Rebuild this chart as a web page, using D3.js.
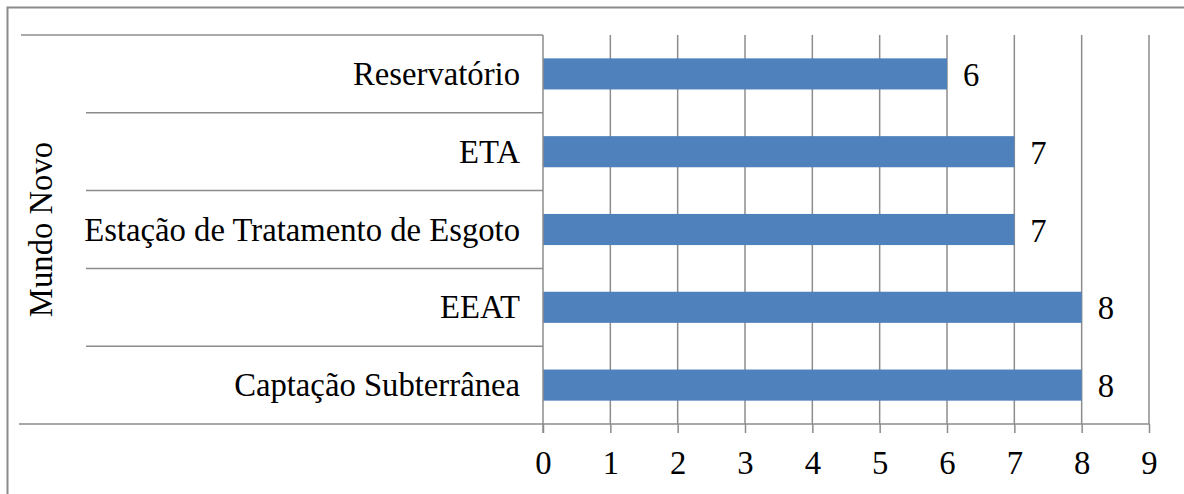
<!DOCTYPE html>
<html>
<head>
<meta charset="utf-8">
<script src="https://cdn.jsdelivr.net/npm/d3@7/dist/d3.min.js"></script>
<style>
  html, body { margin: 0; padding: 0; background: #fff; }
  svg { display: block; }
</style>
</head>
<body>
<svg id="chart" width="1184" height="494"></svg>
<script>
// Group label and categories (top to bottom) with their counts
const groupLabel = "Mundo Novo";
const categories = ["Reservatório", "ETA", "Estação de Tratamento de Esgoto", "EEAT", "Captação Subterrânea"];
const values = [6, 7, 7, 8, 8];
const xTicks = [0, 1, 2, 3, 4, 5, 6, 7, 8, 9];

const svg = d3.select("#chart");
const gridColor = "#8c8c8c";
const barColor = "#4f81bd";
const fontSize = 32.7;
const serif = '"Liberation Serif"';

const plot = { left: 543, right: 1149, top: 35, bottom: 424 };

const x = d3.scaleLinear().domain([0, 9]).range([plot.left, plot.right]);
const y = d3.scaleBand()
  .domain(categories)
  .range([plot.top, plot.bottom])
  .paddingInner(0.6)
  .paddingOuter(0.3);
const step = y.step();

const styleText = sel => sel
  .style("font-family", serif)
  .style("font-size", fontSize + "px")
  .style("fill", "#000");

// Chart-area border
svg.append("rect")
  .attr("x", 7.5).attr("y", 7.5)
  .attr("width", 1184).attr("height", 494)
  .attr("fill", "none")
  .attr("stroke", "#8a8a8a")
  .attr("stroke-width", 2);

// Vertical gridlines
svg.append("g")
  .selectAll("line")
  .data(xTicks.slice(1))
  .join("line")
  .attr("x1", d => x(d)).attr("x2", d => x(d))
  .attr("y1", plot.top).attr("y2", plot.bottom)
  .attr("stroke", gridColor)
  .attr("stroke-width", 1.5);

// Bars
svg.append("g")
  .selectAll("rect")
  .data(categories)
  .join("rect")
  .attr("x", x(0))
  .attr("y", d => y(d))
  .attr("width", (d, i) => x(values[i]) - x(0))
  .attr("height", y.bandwidth())
  .attr("fill", barColor);

// Value labels
svg.append("g")
  .selectAll("text")
  .data(categories)
  .join("text")
  .attr("x", (d, i) => x(values[i]) + 16)
  .attr("y", d => y(d) + y.bandwidth() / 2 + 12)
  .call(styleText)
  .text((d, i) => values[i]);

// Bottom value axis
const xAxis = svg.append("g")
  .attr("transform", `translate(0,${plot.bottom})`)
  .call(d3.axisBottom(x).tickValues(xTicks).tickSize(9).tickPadding(18).tickSizeOuter(0));
xAxis.select(".domain").remove();
xAxis.selectAll(".tick line").attr("stroke", gridColor).attr("stroke-width", 1.5);
xAxis.selectAll(".tick text").call(styleText);

// Horizontal axis line, running under the category labels
svg.append("line")
  .attr("x1", 19).attr("x2", plot.right)
  .attr("y1", plot.bottom).attr("y2", plot.bottom)
  .attr("stroke", gridColor).attr("stroke-width", 1.5);

// Top line of the group bracket
svg.append("line")
  .attr("x1", 21).attr("x2", plot.left)
  .attr("y1", plot.top).attr("y2", plot.top)
  .attr("stroke", gridColor).attr("stroke-width", 1.5);

// Category axis line
svg.append("line")
  .attr("x1", plot.left).attr("x2", plot.left)
  .attr("y1", plot.top).attr("y2", plot.bottom + 9)
  .attr("stroke", gridColor).attr("stroke-width", 1.5);

// Separators between categories
const inner = d3.range(1, categories.length).map(i => plot.top + i * step);
svg.append("g")
  .selectAll("line")
  .data(inner)
  .join("line")
  .attr("x1", 86).attr("x2", plot.left)
  .attr("y1", d => d).attr("y2", d => d)
  .attr("stroke", gridColor).attr("stroke-width", 1.5);

// Category labels
svg.append("g")
  .selectAll("text")
  .data(categories)
  .join("text")
  .attr("x", 520)
  .attr("y", d => y(d) + y.bandwidth() / 2 + 11)
  .attr("text-anchor", "end")
  .call(styleText)
  .text(d => d);

// Group label
svg.append("text")
  .attr("transform", `translate(52,${(plot.top + plot.bottom) / 2}) rotate(-90)`)
  .attr("text-anchor", "middle")
  .call(styleText)
  .text(groupLabel);
</script>
</body>
</html>
